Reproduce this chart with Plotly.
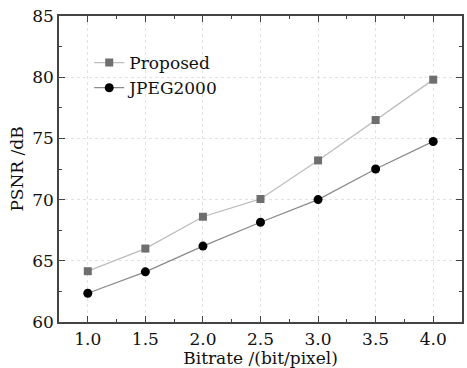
import plotly.graph_objects as go

bitrate = [1.0, 1.5, 2.0, 2.5, 3.0, 3.5, 4.0]
proposed = [64.15, 66.0, 68.6, 70.05, 73.2, 76.5, 79.8]
jpeg2000 = [62.35, 64.1, 66.2, 68.15, 70.0, 72.5, 74.75]
xticks = ["1.0", "1.5", "2.0", "2.5", "3.0", "3.5", "4.0"]
yticks = [60, 65, 70, 75, 80, 85]

font_family = "DejaVu Serif"

fig = go.Figure()
fig.add_trace(go.Scatter(
    x=bitrate, y=proposed, name="Proposed", mode="lines+markers",
    line=dict(color="#bdbdbd", width=1.3),
    marker=dict(symbol="square", size=8, color="#6e6e6e"),
))
fig.add_trace(go.Scatter(
    x=bitrate, y=jpeg2000, name="JPEG2000", mode="lines+markers",
    line=dict(color="#8a8a8a", width=1.3),
    marker=dict(symbol="circle", size=9, color="#000000"),
))

axis_common = dict(
    showline=True, linecolor="#444444", linewidth=1.5, mirror="ticks",
    ticks="inside", ticklen=6, tickcolor="#444444", tickwidth=1.3,
    showgrid=True, gridcolor="#e2e2e2", griddash="dot", gridwidth=1,
    zeroline=False,
    tickfont=dict(family=font_family, size=17, color="#111111"),
)

fig.update_xaxes(
    range=[0.75, 4.25], tickvals=bitrate, ticktext=xticks,
    ticklabelstandoff=1,
    minor=dict(ticks="inside", ticklen=3, tickcolor="#444444", dtick=0.5, tick0=0.75, showgrid=False),
    title=dict(text="Bitrate /(bit/pixel)", font=dict(family=font_family, size=17, color="#111111"), standoff=4),
    **axis_common,
)
fig.update_yaxes(
    range=[60, 85], tickvals=yticks,
    minor=dict(ticks="inside", ticklen=3, tickcolor="#444444", dtick=5, tick0=62.5, showgrid=False),
    title=dict(text="PSNR /dB", font=dict(family=font_family, size=17, color="#111111"), standoff=4),
    **axis_common,
)

fig.update_layout(
    width=467, height=368,
    margin=dict(l=59, r=3, t=16, b=46),
    paper_bgcolor="white", plot_bgcolor="white",
    showlegend=True,
    legend=dict(
        x=0.075, y=0.905, xanchor="left", yanchor="top",
        font=dict(family=font_family, size=17, color="#111111"),
        bgcolor="rgba(0,0,0,0)", itemwidth=30, tracegroupgap=0,
    ),
)

fig.write_html("out.html")
